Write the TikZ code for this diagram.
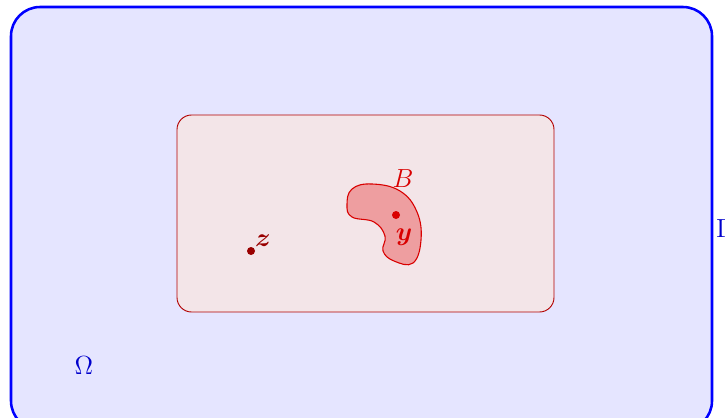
\documentclass[tikz,border=0pt]{standalone}
\usepackage{amsmath,bm}
\definecolor{innerfill}{RGB}{243,229,232}
\definecolor{blobfill}{RGB}{238,158,160}
\begin{document}
\begin{tikzpicture}[x=0.55pt,y=-0.55pt,
  every node/.style={font=\Large},
  outerbox/.style={draw=blue,line width=1.4pt,fill=blue!10,rounded corners=16pt},
  innerbox/.style={draw=red!70!black,line width=0.5pt,fill=innerfill,rounded corners=8pt},
  blob/.style={draw=red!85!black,line width=0.6pt,fill=blobfill},
  dotred/.style={circle,fill=red!85!black,inner sep=0pt,minimum size=4.4pt},
  dotdark/.style={circle,fill=red!60!black,inner sep=0pt,minimum size=4.4pt}]
\useasboundingbox (0,0) rectangle (725,418);
\path[outerbox] (11,7) rectangle (712,430);
\path[innerbox] (177,115) rectangle (554,312);
\draw[blob] plot[smooth cycle,tension=0.7] coordinates {(372,184) (400,191) (417,212) (421,240) (413,263) (394,261) (383,251) (385,236) (374,222) (352,217) (347,205) (352,189)};
\node[dotred] (y) at (396,215) {};
\node[text=red!85!black] (ylab) at (404,237) {$\bm{y}$};
\node[text=red!85!black] (blab) at (403,179) {$B$};
\node[dotdark] (z) at (251,251) {};
\node[text=red!60!black] (zlab) at (263,241) {$\bm{z}$};
\node[text=blue!80!black] (omega) at (84,366) {$\Omega$};
\node[text=blue!80!black] (gamma) at (724,229) {$\Gamma$};
\end{tikzpicture}
\end{document}
